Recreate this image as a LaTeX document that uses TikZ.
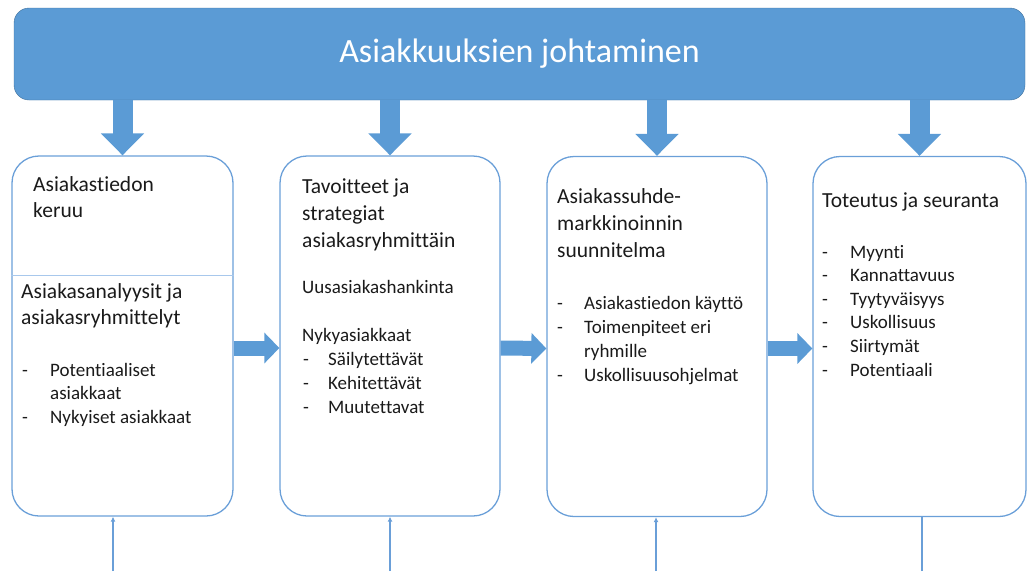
\documentclass[tikz,border=0pt]{standalone}
\usepackage{fontspec}
\setmainfont{Carlito}[Ligatures=CommonOff]
\usetikzlibrary{arrows.meta}
\definecolor{barblue}{HTML}{5B9BD5}
\definecolor{bardark}{HTML}{41719C}
\definecolor{lineblue}{HTML}{6A9FD8}
\definecolor{thinblue}{HTML}{A8C8EC}
\definecolor{ink}{HTML}{1A1A1A}

\begin{document}
\begin{tikzpicture}[x=1pt, y=-1pt,
    bar/.style={draw=bardark, fill=barblue, rounded corners=15pt, minimum width=1011pt, minimum height=92pt, text=white, font=\fontsize{34}{40}\selectfont},
    stage/.style={draw=lineblue, line width=1.3pt, rounded corners=27pt, minimum height=360pt, inner sep=0pt},
    head/.style={anchor=base west, inner sep=0pt, text=ink, font=\fontsize{21.5}{26}\selectfont},
    item/.style={anchor=base west, inner sep=0pt, text=ink, font=\fontsize{19}{23}\selectfont},
    flowdown/.style={barblue, line width=20pt, -{Triangle[length=22pt, width=42pt]}},
    flowright/.style={barblue, line width=15pt, -{Triangle[length=15pt, width=30pt]}},
    feedline/.style={lineblue, line width=1.3pt}]
    \useasboundingbox (0,0) rectangle (1027,571);
    \node[bar] (top) at (519.5,54) {Asiakkuuksien johtaminen};
    \node[stage, minimum width=221pt] (b1) at (122.5,336) {};
    \node[stage, minimum width=220pt] (b2) at (390,336) {};
    \node[stage, minimum width=220pt] (b3) at (657,336.5) {};
    \node[stage, minimum width=213pt] (b4) at (919.5,336.5) {};
    \coordinate (cut) at (0,275);
    \draw[thinblue] (b1.west |- cut) -- (b1.east |- cut);
    \foreach \b in {b1,b2,b3,b4}
        \draw[flowdown] (top.south -| \b.north) -- (\b.north);
    \foreach \a/\b in {b1/b2,b2/b3,b3/b4}
        \draw[flowright] ([yshift=-12pt]\a.east) -- ([yshift=-12pt]\b.west);
    \foreach \x/\b in {113/b1,390/b2,656/b3} {
        \coordinate (f\b) at (\x,571);
        \draw[feedline, -{Latex[length=5pt, width=5pt]}] (f\b) -- (f\b |- \b.south);
    }
    \coordinate (fb4) at (922,571);
    \draw[feedline] (fb4) -- (fb4 |- b4.south);

    \foreach \txt [count=\i] in {Asiakastiedon,keruu}
        \node[head] (h1\i) at (33,164.5+\i*26.5) {\txt};
    \foreach \txt [count=\i] in {Asiakasanalyysit ja,asiakasryhmittelyt}
        \node[head] (g1\i) at (21,272+\i*26) {\txt};
    \foreach \mk/\txt [count=\i] in {-/Potentiaaliset,/asiakkaat,-/Nykyiset asiakkaat} {
        \node[item] (m1\i) at (22,352.5+\i*23.5) {\mk};
        \node[item] (i1\i) at (50,352.5+\i*23.5) {\txt};
    }

    \foreach \txt [count=\i] in {Tavoitteet ja,strategiat,asiakasryhmittäin}
        \node[head] (h2\i) at (302,166+\i*27) {\txt};
    \node[item] (u2) at (302,293) {Uusasiakashankinta};
    \node[item] (n2) at (302,341) {Nykyasiakkaat};
    \foreach \txt [count=\i] in {Säilytettävät,Kehitettävät,Muutettavat} {
        \node[item] (m2\i) at (303,341+\i*24) {-};
        \node[item] (i2\i) at (328,341+\i*24) {\txt};
    }

    \foreach \txt [count=\i] in {Asiakassuhde-,markkinoinnin,suunnitelma}
        \node[head] (h3\i) at (557,176+\i*27) {\txt};
    \foreach \mk/\txt [count=\i] in {-/Asiakastiedon käyttö,-/Toimenpiteet eri,/ryhmille,-/Uskollisuusohjelmat} {
        \node[item] (m3\i) at (557,285+\i*24) {\mk};
        \node[item] (i3\i) at (584,285+\i*24) {\txt};
    }

    \node[head] (h41) at (822,207) {Toteutus ja seuranta};
    \foreach \txt [count=\i] in {Myynti,Kannattavuus,Tyytyväisyys,Uskollisuus,Siirtymät,Potentiaali} {
        \node[item] (m4\i) at (822,234.4+\i*23.6) {-};
        \node[item] (i4\i) at (850,234.4+\i*23.6) {\txt};
    }
\end{tikzpicture}
\end{document}
